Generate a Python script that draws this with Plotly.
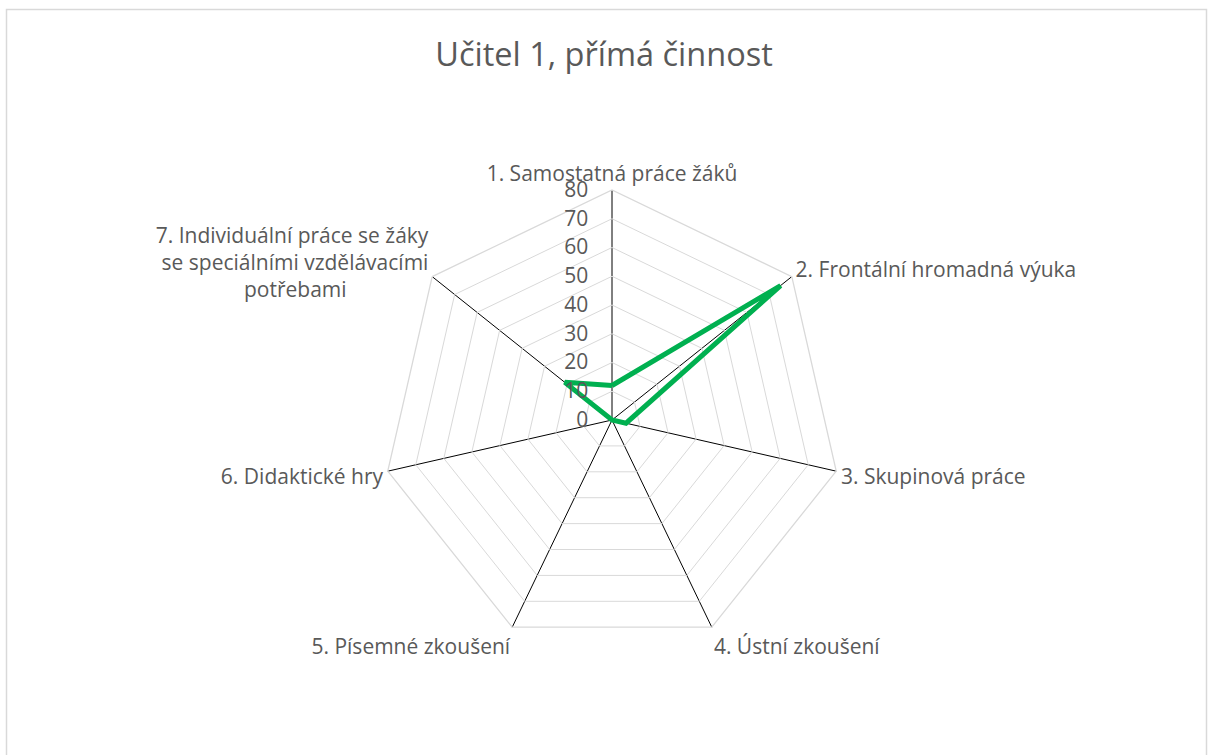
import plotly.graph_objects as go

NB = "\u00a0"
categories = [
    "1. Samostatná práce žáků",
    "2. Frontální hromadná výuka",
    "3. Skupinová práce",
    "4. Ústní zkoušení",
    "5. Písemné zkoušení",
    "6. Didaktické hry",
    NB + "<br>" + NB + "<br>7. Individuální práce se žáky"
    + "<br>se speciálními vzdělávacími"
    + "<br>potřebami" + NB * 15,
]
values = [12, 75, 5, 0, 0, 0, 21]
radial_ticks = [0, 10, 20, 30, 40, 50, 60, 70, 80]
title_text = "Učitel 1, přímá činnost"

W, H = 1208, 755
FONT = "Open Sans"
GREY = "#595959"

fig = go.Figure()
fig.add_trace(go.Scatterpolar(
    r=values + values[:1],
    theta=categories + categories[:1],
    mode="lines",
    line=dict(color="#00b050", width=5),
    hoverinfo="skip",
    showlegend=False,
))

cx, cy, rad = 612, 420, 230
fig.update_layout(
    width=W, height=H,
    margin=dict(l=0, r=0, t=0, b=0),
    paper_bgcolor="white",
    plot_bgcolor="white",
    font=dict(family=FONT, color=GREY, size=21),
    title=dict(text=title_text, x=0.5, xanchor="center", y=1 - 55 / H, yanchor="middle",
               font=dict(family=FONT, size=32.5, color=GREY)),
    polar=dict(
        domain=dict(x=[(cx - rad) / W, (cx + rad) / W], y=[1 - (cy + rad) / H, 1 - (cy - rad) / H]),
        gridshape="linear",
        bgcolor="white",
        radialaxis=dict(
            range=[0, 80], tickvals=radial_ticks, angle=90, tickangle=90,
            side="counterclockwise",
            showline=False, gridcolor="#d9d9d9", gridwidth=1.3,
            ticks="outside", ticklen=16, tickcolor="rgba(0,0,0,0)",
            tickfont=dict(size=21, color=GREY, family=FONT),
        ),
        angularaxis=dict(
            direction="clockwise", rotation=90,
            showline=True, linecolor="#d9d9d9", linewidth=1.3,
            gridcolor="black", gridwidth=1,
            ticks="", tickfont=dict(size=21, color=GREY, family=FONT),
        ),
    ),
    shapes=[dict(type="rect", xref="paper", yref="paper",
                 x0=6.5 / W, x1=1206.5 / W, y0=-0.05, y1=1 - 9.5 / H,
                 line=dict(color="#d9d9d9", width=1.5), fillcolor="rgba(0,0,0,0)", layer="below")],
)

fig.write_html("out.html", config={"displayModeBar": False},
               post_script="document.body.style.margin='0';")
